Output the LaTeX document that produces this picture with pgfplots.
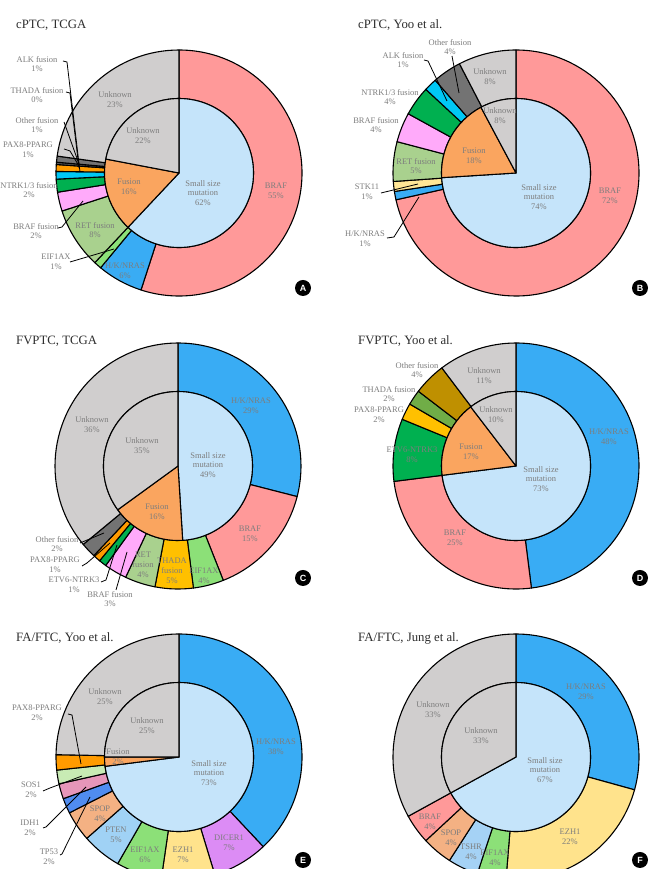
\documentclass[border=0pt]{standalone}
\usepackage{pgfplots}
\usepackage{pgfplotstable}
\pgfplotsset{compat=1.18}
\usepackage{fontspec}
\setmainfont{Liberation Serif}
\newfontfamily\badgefont{Liberation Sans}

\definecolor{pc0}{RGB}{255,153,153}  % BRAF
\definecolor{pc1}{RGB}{197,228,250}  % small size mutation
\definecolor{pc2}{RGB}{250,165,95}   % fusion
\definecolor{pc3}{RGB}{208,206,206}  % unknown
\definecolor{pc4}{RGB}{57,172,244}   % H/K/NRAS
\definecolor{pc5}{RGB}{140,224,120}  % EIF1AX
\definecolor{pc6}{RGB}{169,209,142}  % RET fusion
\definecolor{pc7}{RGB}{255,170,250}  % BRAF fusion
\definecolor{pc8}{RGB}{0,176,80}     % NTRK
\definecolor{pc9}{RGB}{0,200,245}    % ALK
\definecolor{pc10}{RGB}{255,155,0}   % PAX8-PPARG
\definecolor{pc11}{RGB}{115,115,115} % other fusion
\definecolor{pc12}{RGB}{255,230,150} % STK11
\definecolor{pc13}{RGB}{255,192,0}   % gold
\definecolor{pc14}{RGB}{112,173,71}  % THADA D
\definecolor{pc15}{RGB}{191,144,0}   % other fusion D
\definecolor{pc16}{RGB}{220,140,245} % DICER1
\definecolor{pc17}{RGB}{255,227,140} % EZH1
\definecolor{pc18}{RGB}{160,210,245} % PTEN
\definecolor{pc19}{RGB}{244,177,131} % SPOP
\definecolor{pc20}{RGB}{80,140,240}  % TP53
\definecolor{pc21}{RGB}{230,150,185} % IDH1
\definecolor{pc22}{RGB}{200,235,180} % SOS1
\definecolor{pc23}{RGB}{165,210,245} % TSHR
\definecolor{pc24}{RGB}{90,90,90}    % THADA A
\definecolor{labgray}{RGB}{125,125,125}
\definecolor{titlegray}{RGB}{45,45,45}

\pgfdeclareplotmark{empty}{}

\pgfplotsset{
  ring/.style 2 args={
    scatter, only marks, mark=empty,
    point meta=\thisrow{c},
    visualization depends on={\thisrow{v} \as \pv},
    visualization depends on={\thisrow{cum} \as \pe},
    visualization depends on={\thisrow{c} \as \pc},
    scatter/@pre marker code/.code={%
      \pgfmathsetmacro\aA{90-3.6*(\pe-\pv)}%
      \pgfmathsetmacro\aB{90-3.6*\pe}%
      \pgfmathtruncatemacro\cc{round(\pc)}%
      \ifdim #1pt<0.5pt
        \path[fill=pc\cc, draw=black, line width=1.1bp, line join=round]
          (0,0) -- (\aA:#2bp) arc[start angle=\aA, end angle=\aB, radius=#2bp] -- cycle;
      \else
        \path[fill=pc\cc, draw=black, line width=1.1bp, line join=round]
          (\aA:#2bp) arc[start angle=\aA, end angle=\aB, radius=#2bp]
          -- (\aB:#1bp) arc[start angle=\aB, end angle=\aA, radius=#1bp] -- cycle;
      \fi
    },
    scatter/@post marker code/.code={},
  },
}

\newcommand\mkcum[1]{\pgfplotstablecreatecol[create col/expr accum={\pgfmathaccuma + \thisrow{v}}{0}]{cum}{#1}}

% ---------- A: cPTC, TCGA ----------
\pgfplotstableread{
v c
55 0
6 4
1 5
8 6
2.5 7
1.7 8
1 9
0.9 10
0.3 24
0.8 11
22.8 3
}\outA
\pgfplotstableread{
v c
62 1
16 2
22 3
}\inA
% ---------- B: cPTC, Yoo ----------
\pgfplotstableread{
v c
71.5 0
1.1 4
1.3 12
5.2 6
3.9 7
3.9 8
1.7 9
3.8 11
7.6 3
}\outB
\pgfplotstableread{
v c
74 1
18.2 2
7.8 3
}\inB
% ---------- C: FVPTC, TCGA ----------
\pgfplotstableread{
v c
29 4
15 0
4 5
5 13
4 6
3 7
1 8
1 10
2 11
36 3
}\outC
\pgfplotstableread{
v c
49 1
16 2
35 3
}\inC
% ---------- D: FVPTC, Yoo ----------
\pgfplotstableread{
v c
48 4
25 0
8.2 8
2.2 13
2 14
4.3 15
10.3 3
}\outD
\pgfplotstableread{
v c
73 1
16.6 2
10.4 3
}\inD
% ---------- E: FA/FTC, Yoo ----------
\pgfplotstableread{
v c
38 4
7.3 16
7 17
6 5
5.2 18
4 19
2 20
2 21
1.8 22
2 10
24.7 3
}\outE
\pgfplotstableread{
v c
73 1
2 2
25 3
}\inE
% ---------- F: FA/FTC, Jung ----------
\pgfplotstableread{
v c
29.3 4
22 17
3.8 5
4 23
4 19
3.9 0
33 3
}\outF
\pgfplotstableread{
v c
67 1
33 3
}\inF

\mkcum{\outA}\mkcum{\inA}\mkcum{\outB}\mkcum{\inB}
\mkcum{\outC}\mkcum{\inC}\mkcum{\outD}\mkcum{\inD}
\mkcum{\outE}\mkcum{\inE}\mkcum{\outF}\mkcum{\inF}

\tikzset{
  lab/.style={font=\fontsize{8.5}{9.8}\selectfont, text=labgray, align=center, inner sep=0pt},
  ttl/.style={font=\fontsize{12.8}{14}\selectfont, text=titlegray, anchor=base west, inner sep=0pt},
  lead/.style={draw=black, line width=0.8bp},
  badge/.style={circle, fill=black, text=white, minimum size=16bp, inner sep=0pt, font=\badgefont\bfseries\fontsize{9}{9}\selectfont},
}
\newcommand\lab[3]{\node[lab] at (#1,#2) {#3};}

\begin{document}
\begin{tikzpicture}
\useasboundingbox (0,0) rectangle (654bp,869bp);
\clip (0,0) rectangle (654bp,869bp);
\fill[white] (0,0) rectangle (654bp,869bp);
\begin{axis}[at={(0,0)}, anchor=south west, scale only axis,
  width=654bp, height=869bp, xmin=0, xmax=654, ymin=0, ymax=869,
  y dir=reverse, hide axis, clip=false]
\addplot[ring={74.5}{123}] table[x expr=179, y expr=173] {\outA};
\addplot[ring={0}{74.5}]   table[x expr=179, y expr=173] {\inA};
\addplot[ring={74.5}{123}] table[x expr=516, y expr=173] {\outB};
\addplot[ring={0}{74.5}]   table[x expr=516, y expr=173] {\inB};
\addplot[ring={74.5}{123}] table[x expr=178, y expr=466] {\outC};
\addplot[ring={0}{74.5}]   table[x expr=178, y expr=466] {\inC};
\addplot[ring={74.5}{123}] table[x expr=516, y expr=466] {\outD};
\addplot[ring={0}{74.5}]   table[x expr=516, y expr=466] {\inD};
\addplot[ring={74.5}{123}] table[x expr=179, y expr=757] {\outE};
\addplot[ring={0}{74.5}]   table[x expr=179, y expr=757] {\inE};
\addplot[ring={74.5}{123}] table[x expr=516, y expr=757] {\outF};
\addplot[ring={0}{74.5}]   table[x expr=516, y expr=757] {\inF};
\end{axis}

\begin{scope}[x=1bp, y=-1bp, yshift=869bp]
% titles
\node[ttl] at (16,29) {cPTC, TCGA};
\node[ttl] at (358,29) {cPTC, Yoo et al.};
\node[ttl] at (16,345) {FVPTC, TCGA};
\node[ttl] at (358,345) {FVPTC, Yoo et al.};
\node[ttl] at (16,642) {FA/FTC, Yoo et al.};
\node[ttl] at (358,642) {FA/FTC, Jung et al.};

% ---- A labels
\lab{115}{100}{Unknown\\23\%}
\lab{143}{136}{Unknown\\22\%}
\lab{129}{187}{Fusion\\16\%}
\lab{203}{193}{Small size\\mutation\\62\%}
\lab{276}{191}{BRAF\\55\%}
\lab{95}{230}{RET fusion\\8\%}
\lab{125}{271}{H/K/NRAS\\6\%}
\lab{37}{64}{ALK fusion\\1\%}
\lab{37}{95}{THADA fusion\\0\%}
\lab{37}{125}{Other fusion\\1\%}
\lab{28}{150}{PAX8-PPARG\\1\%}
\lab{29}{190}{NTRK1/3 fusion\\2\%}
\lab{36}{231}{BRAF fusion\\2\%}
\lab{56}{262}{EIF1AX\\1\%}
\draw[lead] (63,61) -- (67,62) -- (80,172);
\draw[lead] (66,92) -- (70,93) -- (79,168);
\draw[lead] (64,122) -- (79,164);
\draw[lead] (64,149) -- (70,151) -- (79,166);
\draw[lead] (58,228) -- (62,227) -- (83,201);
\draw[lead] (70,262) -- (114,249);

% ---- B labels
\lab{490}{77}{Unknown\\8\%}
\lab{500}{116}{Unknown\\8\%}
\lab{474}{156}{Fusion\\18\%}
\lab{416}{166}{RET fusion\\5\%}
\lab{539}{197}{Small size\\mutation\\74\%}
\lab{610}{196}{BRAF\\72\%}
\lab{450}{47}{Other fusion\\4\%}
\lab{403}{60}{ALK fusion\\1\%}
\lab{390}{97}{NTRK1/3 fusion\\4\%}
\lab{376}{125}{BRAF fusion\\4\%}
\lab{367}{192}{STK11\\1\%}
\lab{365}{239}{H/K/NRAS\\1\%}
\draw[lead] (452,56) -- (459,93);
\draw[lead] (424,60) -- (428,61) -- (447,101);
\draw[lead] (381,193) -- (418,184);
\draw[lead] (387,238) -- (394,237) -- (419,197);

% ---- C labels
\lab{251}{406}{H/K/NRAS\\29\%}
\lab{92}{425}{Unknown\\36\%}
\lab{142}{446}{Unknown\\35\%}
\lab{208}{465}{Small size\\mutation\\49\%}
\lab{157}{512}{Fusion\\16\%}
\lab{250}{534}{BRAF\\15\%}
\lab{143}{565}{RET\\fusion\\4\%}
\lab{172}{571}{THADA\\fusion\\5\%}
\lab{204}{576}{EIF1AX\\4\%}
\lab{57}{544}{Other fusion\\2\%}
\lab{55}{565}{PAX8-PPARG\\1\%}
\lab{74}{585}{ETV6-NTRK3\\1\%}
\lab{110}{599}{BRAF fusion\\3\%}
\draw[lead] (80,543) -- (104,533);
\draw[lead] (82,566) -- (87,563) -- (110,543);
\draw[lead] (101,582) -- (106,580) -- (117,545);
\draw[lead] (116,590) -- (127,552);

% ---- D labels
\lab{484}{376}{Unknown\\11\%}
\lab{496}{415}{Unknown\\10\%}
\lab{609}{437}{H/K/NRAS\\48\%}
\lab{471}{452}{Fusion\\17\%}
\lab{412}{455}{ETV6-NTRK3\\8\%}
\lab{541}{479}{Small size\\mutation\\73\%}
\lab{455}{538}{BRAF\\25\%}
\lab{417}{370}{Other fusion\\4\%}
\lab{389}{394}{THADA fusion\\2\%}
\lab{379}{415}{PAX8-PPARG\\2\%}

% ---- E labels
\lab{105}{697}{Unknown\\25\%}
\lab{147}{726}{Unknown\\25\%}
\lab{276}{747}{H/K/NRAS\\38\%}
\lab{118}{757}{Fusion\\2\%}
\lab{209}{773}{Small size\\mutation\\73\%}
\lab{100}{814}{SPOP\\4\%}
\lab{116}{835}{PTEN\\5\%}
\lab{145}{855}{EIF1AX\\6\%}
\lab{183}{855}{EZH1\\7\%}
\lab{229}{843}{DICER1\\7\%}
\lab{37}{713}{PAX8-PPARG\\2\%}
\lab{31}{790}{SOS1\\2\%}
\lab{30}{828}{IDH1\\2\%}
\lab{49}{857}{TP53\\2\%}
\draw[lead] (68,714) -- (72,715) -- (81,764);
\draw[lead] (43,791) -- (50,788) -- (82,776);
\draw[lead] (43,828) -- (46,827) -- (86,787);
\draw[lead] (60,855) -- (62,854) -- (90,797);

% ---- F labels
\lab{586}{692}{H/K/NRAS\\29\%}
\lab{433}{710}{Unknown\\33\%}
\lab{481}{736}{Unknown\\33\%}
\lab{545}{770}{Small size\\mutation\\67\%}
\lab{570}{837}{EZH1\\22\%}
\lab{430}{822}{BRAF\\4\%}
\lab{451}{838}{SPOP\\4\%}
\lab{471}{852}{TSHR\\4\%}
\lab{495}{858}{EIF1AX\\4\%}

% badges
\node[badge] at (303,288) {A};
\node[badge] at (640,288) {B};
\node[badge] at (303,578) {C};
\node[badge] at (640,578) {D};
\node[badge] at (303,860) {E};
\node[badge] at (640,860) {F};
\end{scope}
\end{tikzpicture}
\end{document}
